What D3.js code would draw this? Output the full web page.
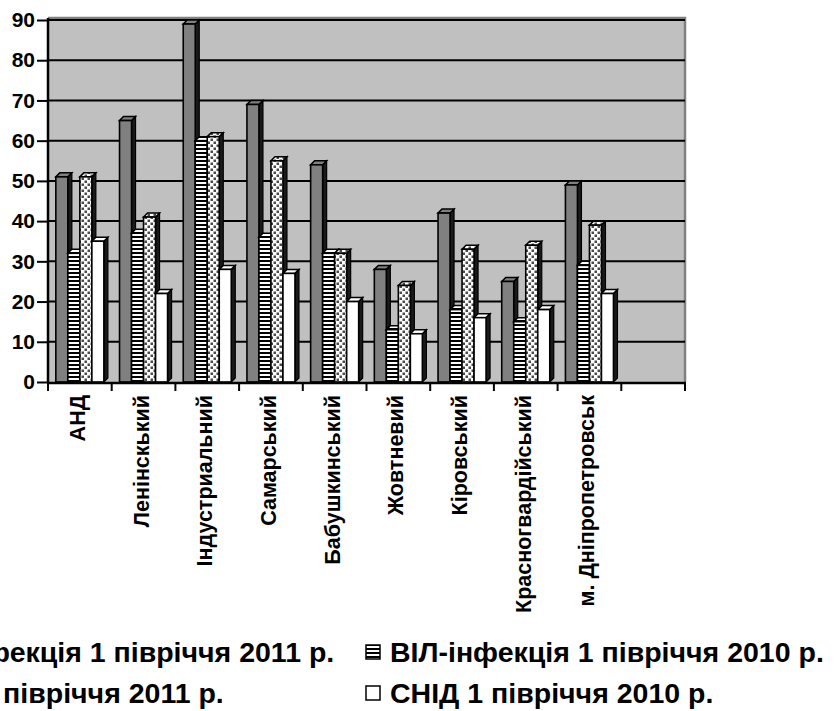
<!DOCTYPE html>
<html><head><meta charset="utf-8">
<script src="https://cdn.jsdelivr.net/npm/d3@7"></script>
<style>
html,body{margin:0;padding:0;background:#fff;}
svg{display:block;font-family:"Liberation Sans",Arial,sans-serif;font-weight:bold;}
</style></head>
<body>
<svg id="chart" width="838" height="711"></svg>
<script>
const categories = ["АНД","Ленінскький","Індустриальний","Самарський","Бабушкинський","Жовтневий","Кіровський","Красногвардійський","м. Дніпропетровськ"];
const seriesNames = ["ВІЛ-інфекція 1 півріччя 2011 р.","ВІЛ-інфекція 1 півріччя 2010 р.","СНІД 1 півріччя 2011 р.","СНІД 1 півріччя 2010 р."];
const hiv2011  = [51, 65, 89, 69, 54, 28, 42, 25, 49];
const hiv2010  = [32, 37, 60, 36, 32, 13, 18, 15, 29];
const aids2011 = [51, 41, 61, 55, 32, 24, 33, 34, 39];
const aids2010 = [35, 22, 28, 27, 20, 12, 16, 18, 22];
const yTicks = [0,10,20,30,40,50,60,70,80,90];

const seriesValues = [hiv2011, hiv2010, aids2011, aids2010];

(function(){
const svg = d3.select("#chart");
const defs = svg.append("defs");
const ps = defs.append("pattern").attr("id","stripes").attr("patternUnits","userSpaceOnUse").attr("width",4).attr("height",4);
ps.append("rect").attr("width",4).attr("height",4).attr("fill","#fff");
ps.append("rect").attr("width",4).attr("height",2).attr("fill","#000");
const pd = defs.append("pattern").attr("id","dots").attr("patternUnits","userSpaceOnUse").attr("width",6).attr("height",6);
pd.append("rect").attr("width",6).attr("height",6).attr("fill","#fff");
pd.append("rect").attr("x",0.5).attr("y",0.5).attr("width",2.5).attr("height",2.5).attr("fill","#4a4a4a");
pd.append("rect").attr("x",3.5).attr("y",3.5).attr("width",2.5).attr("height",2.5).attr("fill","#4a4a4a");

const fills = ["#808080","url(#stripes)","url(#dots)","#ffffff"];

const pL = 48, pR = 685, pT = 18, pB = 382;
const slots = categories.concat([""]);
const x0 = d3.scaleBand().domain(d3.range(slots.length)).range([pL,pR]).paddingInner(0.246).paddingOuter(0.123);
const x1 = d3.scaleBand().domain(d3.range(seriesValues.length)).range([0,x0.bandwidth()]);
const y = d3.scaleLinear().domain([0,90]).range([pB, pT+2]);
const step = x0.step();

svg.append("rect").attr("x",pL).attr("y",pT).attr("width",pR-pL).attr("height",pB-pT).attr("fill","#c0c0c0");
svg.append("path").attr("d",`M${pL},${pT} H${pR} V${pB}`).attr("fill","none").attr("stroke","#808080").attr("stroke-width",2.5);

svg.append("g").selectAll("line").data(yTicks.filter(d=>d>0)).join("line")
  .attr("x1",pL).attr("x2",pR).attr("y1",d=>y(d)).attr("y2",d=>y(d))
  .attr("stroke","#000").attr("stroke-width",2);

const dx = 4, dy = 4;
const gBars = svg.append("g");
categories.forEach((c,i)=>{
  seriesValues.forEach((vals,s)=>{
    const bx = x0(i) + x1(s), bw = x1.bandwidth();
    const by = y(vals[i]), bh = pB - by;
    const g = gBars.append("g");
    g.append("path").attr("d",`M${bx+bw},${by} L${bx+bw+dx},${by-dy} L${bx+bw+dx},${pB-dy} L${bx+bw},${pB} Z`)
      .attr("fill","#1a1a1a").attr("stroke","#000").attr("stroke-width",1.2);
    g.append("path").attr("d",`M${bx},${by} L${bx+dx},${by-dy} L${bx+bw+dx},${by-dy} L${bx+bw},${by} Z`)
      .attr("fill",fills[s]).attr("stroke","#000").attr("stroke-width",1.5);
    g.append("rect").attr("x",bx).attr("y",by).attr("width",bw).attr("height",bh)
      .attr("fill",fills[s]).attr("stroke","#000").attr("stroke-width",1.6);
  });
});

svg.append("line").attr("x1",pL).attr("x2",pL).attr("y1",pT).attr("y2",pB+1).attr("stroke","#000").attr("stroke-width",2.5);
const yAxis = svg.append("g").attr("transform",`translate(${pL},0)`)
  .call(d3.axisLeft(y).tickValues(yTicks).tickSize(11).tickPadding(2));
yAxis.select(".domain").remove();
yAxis.selectAll(".tick line").attr("stroke","#000").attr("stroke-width",2);
yAxis.selectAll(".tick text").attr("font-size",21).attr("font-weight","bold").attr("fill","#000")
  .attr("font-family","Liberation Sans, Arial, sans-serif");

svg.append("line").attr("x1",pL).attr("x2",pR+1).attr("y1",pB+1).attr("y2",pB+1).attr("stroke","#000").attr("stroke-width",2.5);
svg.append("g").selectAll("line").data(d3.range(slots.length+1)).join("line")
  .attr("x1",d=>pL+d*step).attr("x2",d=>pL+d*step).attr("y1",pB).attr("y2",pB+9)
  .attr("stroke","#000").attr("stroke-width",2);
svg.append("g").selectAll("text").data(categories).join("text")
  .attr("transform",(d,i)=>`translate(${x0(i)+x0.bandwidth()/2+5},395) rotate(-90)`)
  .attr("text-anchor","end").attr("font-size",21.5).attr("fill","#000").text(d=>d);

const legX = [-122, 366], legY = [662, 703];
const leg = svg.append("g");
seriesNames.forEach((n,s)=>{
  const cx = legX[s%2], cy = legY[Math.floor(s/2)];
  leg.append("rect").attr("x",cx).attr("y",cy-17).attr("width",14).attr("height",14)
    .attr("fill",fills[s]).attr("stroke","#000").attr("stroke-width",1.5);
  leg.append("text").attr("x",cx+24).attr("y",cy).attr("font-size",28.5).attr("fill","#000").text(n);
});
})();
</script>
</body></html>
